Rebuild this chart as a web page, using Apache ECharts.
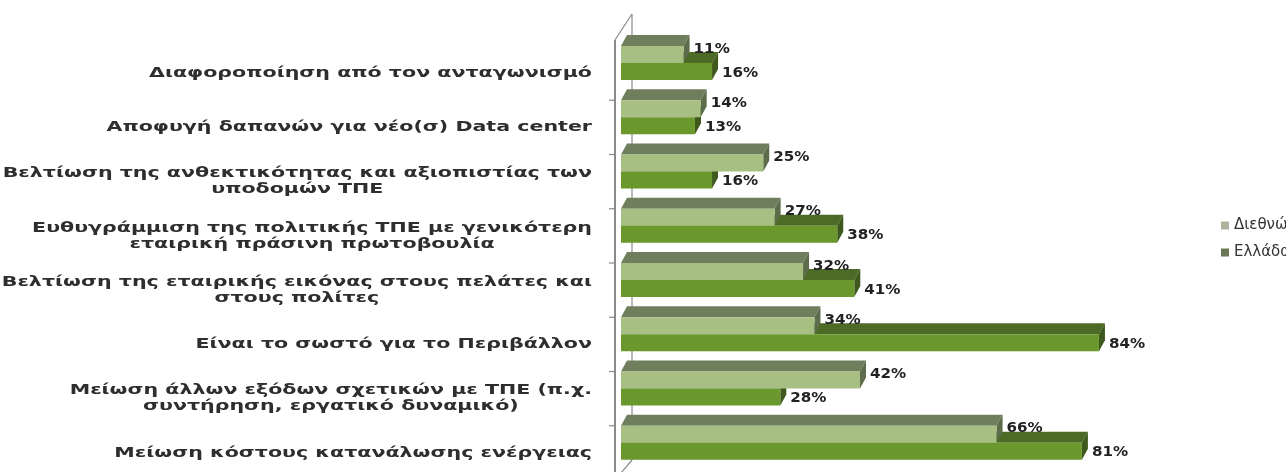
<!DOCTYPE html>
<html>
<head>
<meta charset="utf-8">
<script src="https://cdn.jsdelivr.net/npm/echarts@6/dist/echarts.min.js"></script>
<style>
  html, body { margin: 0; padding: 0; background: #ffffff; }
  #chart { width: 1286px; height: 472px; }
</style>
</head>
<body>
<div id="chart"></div>
<script>
// Reasons for green IT initiatives, share of respondents (%)
const categories = [
  'Διαφοροποίηση από τον ανταγωνισμό',
  'Αποφυγή δαπανών για νέο(σ) Data center',
  'Βελτίωση της ανθεκτικότητας και αξιοπιστίας των\nυποδομών ΤΠΕ',
  'Ευθυγράμμιση της πολιτικής ΤΠΕ με γενικότερη\nεταιρική πράσινη πρωτοβουλία',
  'Βελτίωση της εταιρικής εικόνας στους πελάτες και\nστους πολίτες',
  'Είναι το σωστό για το Περιβάλλον',
  'Μείωση άλλων εξόδων σχετικών με ΤΠΕ (π.χ.\nσυντήρηση, εργατικό δυναμικό)',
  'Μείωση κόστους κατανάλωσης ενέργειας'
];
const seriesNames = ['Διεθνώς', 'Ελλάδα'];
const intlValues = [11, 14, 25, 27, 32, 34, 42, 66];
const greeceValues = [16, 13, 16, 38, 41, 84, 28, 81];

// ---- drawing style ----
const LABEL_FONT = 'bold 14px "DejaVu Sans"';
const LABEL_STRETCH = 1.47;
const VALUE_FONT = 'bold 14px "DejaVu Sans"';
const VALUE_STRETCH = 1.08;
const DEPTH_X = 6, DEPTH_Y = 11, BAR_H = 17;
const palette = [
  { front: '#a7bf83', top: '#6f7f5d', side: '#5d6c4b', legend: '#acb49e' },
  { front: '#6a982d', top: '#4d6b27', side: '#3e581d', legend: '#6c7756' }
];

const measureCtx = document.createElement('canvas').getContext('2d');
measureCtx.font = LABEL_FONT;
function blockWidth(text) {
  return Math.max.apply(null, text.split('\n').map(l => measureCtx.measureText(l).width));
}

// 3D-looking bar: front face, top face and right side face
function barRenderer(idx) {
  return function (params, api) {
    const val = api.value(0), cat = api.value(1);
    const p0 = api.coord([0, cat]);
    const p1 = api.coord([val, cat]);
    const band = api.size([0, 1])[1];
    const bandTop = p0[1] - band / 2;
    const y = bandTop + idx * BAR_H;
    const x0 = p0[0], x1 = p1[0];
    const c = palette[idx];
    return {
      type: 'group',
      children: [
        { type: 'polygon', shape: { points: [[x0, y], [x1, y], [x1 + DEPTH_X, y - DEPTH_Y], [x0 + DEPTH_X, y - DEPTH_Y]] }, style: { fill: c.top } },
        { type: 'polygon', shape: { points: [[x1, y], [x1 + DEPTH_X, y - DEPTH_Y], [x1 + DEPTH_X, y + BAR_H - DEPTH_Y], [x1, y + BAR_H]] }, style: { fill: c.side } },
        { type: 'rect', shape: { x: x0, y: y, width: x1 - x0, height: BAR_H }, style: { fill: c.front } },
        { type: 'text', x: x1 + 10, y: y + (idx ? 10 : 3), scaleX: VALUE_STRETCH,
          style: { text: val + '%', font: VALUE_FONT, fill: '#222', align: 'left', verticalAlign: 'middle' } }
      ]
    };
  };
}

// walls of the 3D plot area plus category labels
function frameRenderer(params, api) {
  const cs = params.coordSys;
  const gx = cs.x, gy = cs.y, gh = cs.height;
  const band = gh / categories.length;
  const axisX = gx - 6, backX = gx + 11;
  const lineStyle = { stroke: '#8a8a8a', lineWidth: 2 };
  const thin = { stroke: '#8a8a8a', lineWidth: 1.2 };
  const children = [
    { type: 'line', shape: { x1: backX, y1: gy - 32, x2: backX, y2: gy + gh - 20 }, style: thin },
    { type: 'line', shape: { x1: axisX, y1: gy - 6, x2: backX, y2: gy - 32 }, style: thin },
    { type: 'line', shape: { x1: backX, y1: gy + gh - 20, x2: axisX, y2: gy + gh }, style: thin },
    { type: 'line', shape: { x1: axisX, y1: gy - 6, x2: axisX, y2: gy + gh }, style: lineStyle }
  ];
  for (let k = 1; k < categories.length; k++) {
    const ty = gy + k * band;
    children.push({ type: 'line', shape: { x1: axisX - 6, y1: ty, x2: axisX, y2: ty }, style: thin });
  }
  categories.forEach((text, i) => {
    const yc = api.coord([0, i])[1];
    const right = gx - 29;
    const w = blockWidth(text) * LABEL_STRETCH;
    children.push({
      type: 'text', x: right - w / 2, y: yc, scaleX: LABEL_STRETCH,
      style: { text: text, font: LABEL_FONT, fill: '#2e2e2e', align: 'center', verticalAlign: 'middle', lineHeight: 16 }
    });
  });
  return { type: 'group', children: children };
}

const chart = echarts.init(document.getElementById('chart'), null, { renderer: 'canvas' });
chart.setOption({
  backgroundColor: '#ffffff',
  animation: false,
  grid: { left: 621, top: 46, width: 569, height: 434, outerBoundsMode: 'none' },
  xAxis: { type: 'value', min: 0, max: 100, show: false },
  yAxis: {
    type: 'category', inverse: true, data: categories,
    axisLine: { show: false }, axisTick: { show: false }, axisLabel: { show: false }, splitLine: { show: false }
  },
  legend: {
    orient: 'vertical', left: 1216, top: 213, itemWidth: 8, itemHeight: 8, itemGap: 12, icon: 'rect',
    textStyle: { fontFamily: 'DejaVu Sans', fontSize: 15, color: '#333' },
    data: seriesNames.map((n, i) => ({ name: n, itemStyle: { color: palette[i].legend } }))
  },
  series: [
    {
      type: 'custom', name: 'frame', z: 1, silent: true,
      data: [[0, 0]], encode: { x: 0, y: 1 },
      renderItem: frameRenderer
    },
    {
      type: 'custom', name: seriesNames[0], z: 3,
      itemStyle: { color: palette[0].legend },
      data: intlValues.map((v, i) => [v, i]), encode: { x: 0, y: 1 },
      renderItem: barRenderer(0)
    },
    {
      type: 'custom', name: seriesNames[1], z: 2,
      itemStyle: { color: palette[1].legend },
      data: greeceValues.map((v, i) => [v, i]), encode: { x: 0, y: 1 },
      renderItem: barRenderer(1)
    }
  ]
});
</script>
</body>
</html>
